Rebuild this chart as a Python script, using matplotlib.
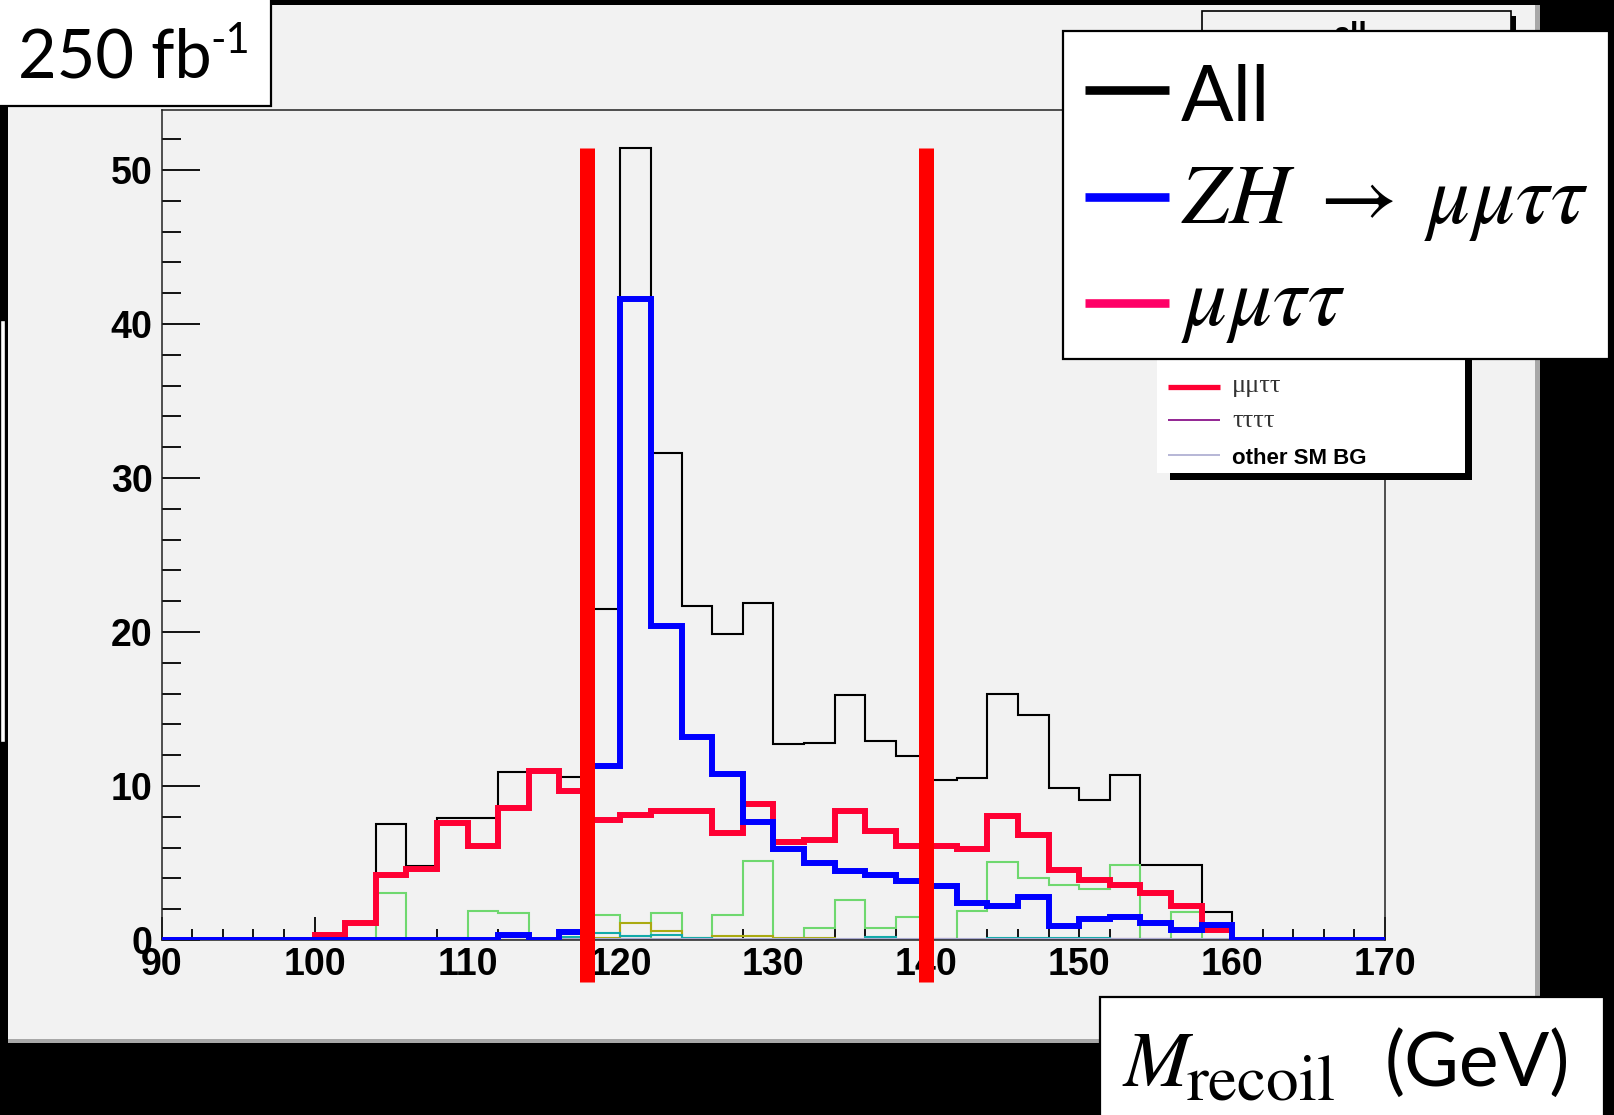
import matplotlib
matplotlib.use("Agg")
import matplotlib.pyplot as plt
from matplotlib.patches import Rectangle
from matplotlib.lines import Line2D
from matplotlib.ticker import MultipleLocator

# ---------------- data (bins of 2 GeV from 90 to 170) ----------------
bin_edges = list(range(90, 172, 2))

all_counts = [0, 0, 0, 0, 0,
              0.33, 1.2, 7.55, 4.8, 7.95, 7.95, 10.9, 10.9, 10.6, 21.5,
              51.4, 31.6, 21.7, 19.9, 21.9, 12.7, 12.8, 15.9, 12.9, 11.95,
              10.4, 10.5, 16.0, 14.6, 9.9, 9.1, 10.7, 4.85, 4.85, 1.8,
              0, 0, 0, 0, 0]

zh_counts = [0, 0, 0, 0, 0,
             0, 0, 0, 0, 0, 0, 0.3, 0, 0.55, 11.3,
             41.6, 20.4, 13.2, 10.8, 7.65, 5.9, 5.0, 4.5, 4.2, 3.8,
             3.5, 2.4, 2.2, 2.8, 0.9, 1.35, 1.5, 1.1, 0.65, 1.0,
             0, 0, 0, 0, 0]

mmtt_counts = [0, 0, 0, 0, 0,
               0.33, 1.1, 4.25, 4.6, 7.6, 6.1, 8.6, 11.0, 9.7, 7.8,
               8.1, 8.35, 8.35, 6.95, 8.8, 6.35, 6.5, 8.4, 7.05, 6.1,
               6.1, 5.9, 8.05, 6.8, 4.55, 3.9, 3.6, 3.05, 2.2, 0.65,
               0, 0, 0, 0, 0]

green_counts = [0, 0, 0, 0, 0,
                0, 0, 3.05, 0, 0, 1.9, 1.75, 0, 0, 1.6,
                0, 1.75, 0, 1.6, 5.1, 0, 0.75, 2.6, 0.75, 1.5,
                0, 1.9, 5.05, 4.0, 3.6, 3.3, 4.9, 0, 1.8, 0,
                0, 0, 0, 0, 0]

olive_counts = [0, 0, 0, 0, 0,
                0, 0, 0, 0, 0, 0, 0, 0, 0, 0.15,
                1.1, 0.6, 0.1, 0.25, 0.25, 0.1, 0.1, 0, 0, 0,
                0, 0, 0, 0, 0, 0, 0, 0, 0, 0,
                0, 0, 0, 0, 0]

teal_counts = [0, 0, 0, 0, 0,
               0, 0, 0, 0, 0.15, 0, 0, 0, 0.2, 0.45,
               0.25, 0.3, 0.1, 0, 0, 0, 0, 0, 0.2, 0,
               0, 0, 0.15, 0.1, 0.1, 0.1, 0, 0, 0, 0,
               0, 0, 0, 0, 0]

tttt_counts = [0, 0, 0, 0, 0,
               0, 0, 0, 0, 0, 0, 0, 0, 0, 0,
               0.05, 0, 0, 0, 0, 0, 0, 0, 0, 0,
               0.05, 0, 0, 0, 0, 0, 0.05, 0.05, 0, 0,
               0, 0, 0, 0, 0]

other_counts = [0, 0, 0, 0, 0,
                0, 0, 0, 0, 0, 0, 0, 0, 0.08, 0.08,
                0.08, 0.08, 0.08, 0.08, 0.08, 0.08, 0.08, 0.08, 0.08, 0.08,
                0.08, 0.08, 0.08, 0.08, 0.08, 0.08, 0.08, 0.08, 0.08, 0.08,
                0, 0, 0, 0, 0]

cut_positions = [117.8, 140.0]
cut_range = [-2.7, 51.4]

x_range = [90, 170]
y_range = [0, 53.9]

legend_labels = ["All", r"$ZH\;\rightarrow\;\mu\mu\tau\tau$", r"$\mu\mu\tau\tau$"]
root_legend_labels = ["\u03bc\u03bc\u03c4\u03c4", "\u03c4\u03c4\u03c4\u03c4", "other SM BG"]

# ---------------- figure ----------------
W, H = 1615, 1115
fig = plt.figure(figsize=(W / 100, H / 100), dpi=100)
fig.patch.set_facecolor("black")


def fx(px):
    return px / W


def fy(py):
    return 1 - py / H


def frect(x0, y0, x1, y1, **kw):
    r = Rectangle((fx(x0), fy(y1)), (x1 - x0) / W, (y1 - y0) / H,
                  transform=fig.transFigure, **kw)
    fig.add_artist(r)
    return r


def fline(x0, x1, y, **kw):
    ln = Line2D([fx(x0), fx(x1)], [fy(y), fy(y)], transform=fig.transFigure,
                solid_capstyle="butt", **kw)
    fig.add_artist(ln)
    return ln


CANVAS = "#f2f2f2"
# ROOT canvas + shadow
frect(8, 5, 1540, 1043, facecolor="#a8a8a8", edgecolor="none", zorder=-3)
frect(8, 5, 1535, 1039, facecolor=CANVAS, edgecolor="none", zorder=-2)
# slim box at left edge
frect(0, 320, 5, 742, facecolor="white", edgecolor="black", lw=1.0, zorder=-1)

# ---------------- axes ----------------
ax_l, ax_r, ax_t, ax_b = 161.7, 1385, 110, 940
ax = fig.add_axes([fx(ax_l), fy(ax_b), (ax_r - ax_l) / W, (ax_b - ax_t) / H])
ax.set_facecolor(CANVAS)

ax.stairs(all_counts, bin_edges, color="black", lw=1.5, zorder=2)
ax.stairs(green_counts, bin_edges, color="#6fd86f", lw=1.5, zorder=2.1)
ax.stairs(olive_counts, bin_edges, color="#aaaa11", lw=1.5, zorder=2.2)
ax.stairs(teal_counts, bin_edges, color="#11aaaa", lw=1.5, zorder=2.2)
ax.stairs(tttt_counts, bin_edges, color="#800080", lw=1.5, zorder=2.2)
ax.stairs(other_counts, bin_edges, color="#aaaad0", lw=1.5, zorder=2.2)
ax.stairs(mmtt_counts, bin_edges, color="#ff0033", lw=4.3, zorder=3)
ax.stairs(zh_counts, bin_edges, color="#0000ff", lw=4.3, zorder=3.1)

for xc in cut_positions:
    ax.plot([xc, xc], cut_range, color="#ff0000", lw=10.8,
            solid_capstyle="butt", clip_on=False, zorder=10)

ax.set_xlim(*x_range)
ax.set_ylim(*y_range)
ax.xaxis.set_major_locator(MultipleLocator(10))
ax.xaxis.set_minor_locator(MultipleLocator(2))
ax.yaxis.set_major_locator(MultipleLocator(10))
ax.yaxis.set_minor_locator(MultipleLocator(2))
ax.tick_params(which="both", direction="in", width=1.4, color="#111111",
               labelsize=27, top=False, right=False)
ax.tick_params(axis="y", which="major", length=27.4, pad=6.5)
ax.tick_params(axis="y", which="minor", length=13.7)
ax.tick_params(axis="x", which="major", length=16.6, pad=5.0)
ax.tick_params(axis="x", which="minor", length=8)
for lbl in ax.get_xticklabels() + ax.get_yticklabels():
    lbl.set_fontfamily("Liberation Sans")
    lbl.set_fontweight("bold")
for sp in ax.spines.values():
    sp.set_linewidth(1.1)
    sp.set_color("#222222")

# ---------------- ROOT legend remnants ----------------
frect(1207, 16, 1516, 80, facecolor="black", edgecolor="none", zorder=3)
frect(1202, 11, 1511, 75, facecolor=CANVAS, edgecolor="black", lw=1.2, zorder=3.1)
fig.text(fx(1350), fy(44), "all", ha="center", va="baseline", fontsize=22,
         fontweight="bold", family="Liberation Sans", zorder=3.2)

frect(1170, 340, 1472, 480, facecolor="black", edgecolor="none", zorder=3)
frect(1157, 330, 1465, 473, facecolor="white", edgecolor="none", zorder=3.1)
fline(1168, 1220, 387, color="#ff0033", lw=3.8, zorder=3.2)
fline(1168, 1220, 420, color="#800080", lw=1.2, zorder=3.2)
fline(1168, 1220, 455, color="#aaaad0", lw=1.2, zorder=3.2)
fig.text(fx(1232), fy(392), root_legend_labels[0], ha="left", va="baseline",
         fontsize=19, family="Liberation Serif", color="#333333", zorder=3.2)
fig.text(fx(1232), fy(427), root_legend_labels[1], ha="left", va="baseline",
         fontsize=19, family="Liberation Serif", color="#333333", zorder=3.2)
fig.text(fx(1232), fy(464), root_legend_labels[2], ha="left", va="baseline",
         fontsize=16, fontweight="bold", family="Liberation Sans", zorder=3.2)

# ---------------- overlay legend ----------------
frect(1063, 31, 1609, 359, facecolor="white", edgecolor="black", lw=1.6, zorder=5)
legend_colors = ["black", "#0000ff", "#ff0066"]
legend_y = [90, 197, 303]
legend_base = [121, 223, 325]
for lab, col, yl, yb in zip(legend_labels, legend_colors, legend_y, legend_base):
    fline(1085, 1169, yl, color=col, lw=6.2, zorder=6)
    if lab.startswith("$"):
        fig.text(fx(1181), fy(yb), lab, ha="left", va="baseline", fontsize=61,
                 math_fontfamily="stix", zorder=6)
    else:
        fig.text(fx(1181), fy(yb), lab, ha="left", va="baseline", fontsize=56,
                 family="Lato", zorder=6)

# ---------------- luminosity box ----------------
frect(-5, -5, 271, 106, facecolor="white", edgecolor="black", lw=1.6, zorder=5)
fig.text(fx(18), fy(77), "250 fb", ha="left", va="baseline", fontsize=48,
         family="Lato", zorder=6)
fig.text(fx(210), fy(53), "-1", ha="left", va="baseline", fontsize=30,
         family="Lato", zorder=6)

# ---------------- axis title box ----------------
frect(1100, 997, 1604, 1125, facecolor="white", edgecolor="black", lw=1.6, zorder=5)
fig.text(fx(1122), fy(1086), r"$M$", ha="left", va="baseline",
         fontsize=57, math_fontfamily="stix", zorder=6)
fig.text(fx(1186), fy(1100), r"$\mathrm{recoil}$", ha="left", va="baseline",
         fontsize=47, math_fontfamily="stix", zorder=6)
fig.text(fx(1385), fy(1086), "(GeV)", ha="left", va="baseline", fontsize=54,
         family="Lato", zorder=6)

fig.savefig("out.png", dpi=100, facecolor=fig.get_facecolor())
